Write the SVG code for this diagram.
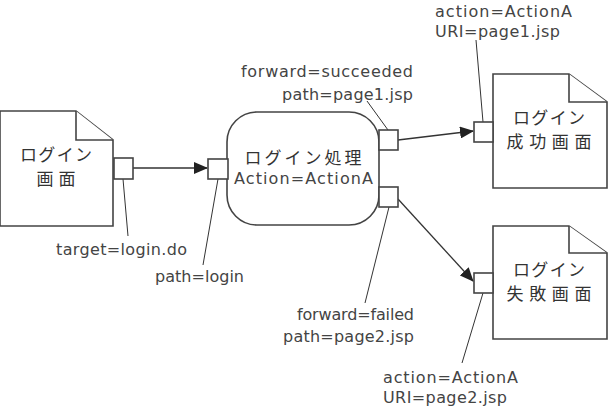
<svg xmlns="http://www.w3.org/2000/svg" width="616" height="420" viewBox="0 0 616 420">
<style>
.sh{fill:#fff;stroke:#444;stroke-width:1.6}
.ln{fill:none;stroke:#333;stroke-width:1}
.ar{fill:none;stroke:#333;stroke-width:1.3}
.jp{font-family:"Noto Sans CJK JP","Noto Sans",sans-serif;font-size:17px;fill:#333;text-anchor:middle}
.lt{font-family:"DejaVu Sans","Noto Sans",sans-serif;font-size:16px;fill:#444}
.mid{text-anchor:middle}
.end{text-anchor:end}
</style>
<defs>
<marker id="ah" markerWidth="14" markerHeight="12" refX="13" refY="6" orient="auto" markerUnits="userSpaceOnUse">
<path d="M0,0 L14,6 L0,12 Z" fill="#222"/>
</marker>
</defs>
<g id="connectors">
<line class="ar" x1="133" y1="168" x2="207" y2="168" marker-end="url(#ah)"/>
<line class="ar" x1="398" y1="140" x2="473" y2="131" marker-end="url(#ah)"/>
<line class="ar" x1="398" y1="199" x2="473" y2="281" marker-end="url(#ah)"/>
<line class="ln" x1="123" y1="179" x2="128" y2="236"/>
<line class="ln" x1="218" y1="179" x2="203" y2="265"/>
<line class="ln" x1="367" y1="101" x2="388" y2="130"/>
<line class="ln" x1="389" y1="207" x2="365" y2="303"/>
<line class="ln" x1="476" y1="40" x2="483" y2="122"/>
<line class="ln" x1="483" y1="293" x2="462" y2="363"/>
</g>
<g id="login-page">
<path class="sh" d="M0,111 H76 L113,140 V226 H0 Z"/>
<path class="sh" d="M76,111 V140 H113" fill="none"/>
<rect class="sh" x="114" y="158" width="19" height="21"/>
<text class="jp" x="56" y="161" textLength="72">ログイン</text>
<text class="jp" x="56" y="185" textLength="39">画面</text>
<text class="lt" x="56" y="255" textLength="131">target=login.do</text>
</g>
<g id="login-action">
<rect class="sh" x="227" y="112" width="152" height="113" rx="30" ry="30"/>
<rect class="sh" x="208" y="159" width="20" height="20"/>
<rect class="sh" x="379" y="130" width="19" height="20"/>
<rect class="sh" x="379" y="187" width="19" height="20"/>
<text class="jp" x="303" y="164" textLength="117">ログイン処理</text>
<text class="lt mid" x="303.5" y="184" textLength="139">Action=ActionA</text>
<text class="lt" x="155" y="282" textLength="89">path=login</text>
<text class="lt end" x="413" y="77" textLength="172">forward=succeeded</text>
<text class="lt end" x="413" y="100" textLength="131">path=page1.jsp</text>
<text class="lt end" x="414" y="320" textLength="117">forward=failed</text>
<text class="lt end" x="414" y="342" textLength="131">path=page2.jsp</text>
</g>
<g id="success-page">
<path class="sh" d="M493,74 H569 L607,102 V188 H493 Z"/>
<path class="sh" d="M569,74 V102 H607" fill="none"/>
<rect class="sh" x="474" y="122" width="19" height="20"/>
<text class="jp" x="549" y="124" textLength="72">ログイン</text>
<text class="jp" x="549" y="148" textLength="85">成功画面</text>
<text class="lt" x="435" y="17" textLength="137">action=ActionA</text>
<text class="lt" x="435" y="37" textLength="125">URI=page1.jsp</text>
</g>
<g id="failed-page">
<path class="sh" d="M493,226 H569 L607,253 V339 H493 Z"/>
<path class="sh" d="M569,226 V253 H607" fill="none"/>
<rect class="sh" x="474" y="273" width="19" height="20"/>
<text class="jp" x="549" y="276" textLength="72">ログイン</text>
<text class="jp" x="549" y="300" textLength="85">失敗画面</text>
<text class="lt" x="383" y="383" textLength="135">action=ActionA</text>
<text class="lt" x="383" y="403" textLength="124">URI=page2.jsp</text>
</g>
</svg>
